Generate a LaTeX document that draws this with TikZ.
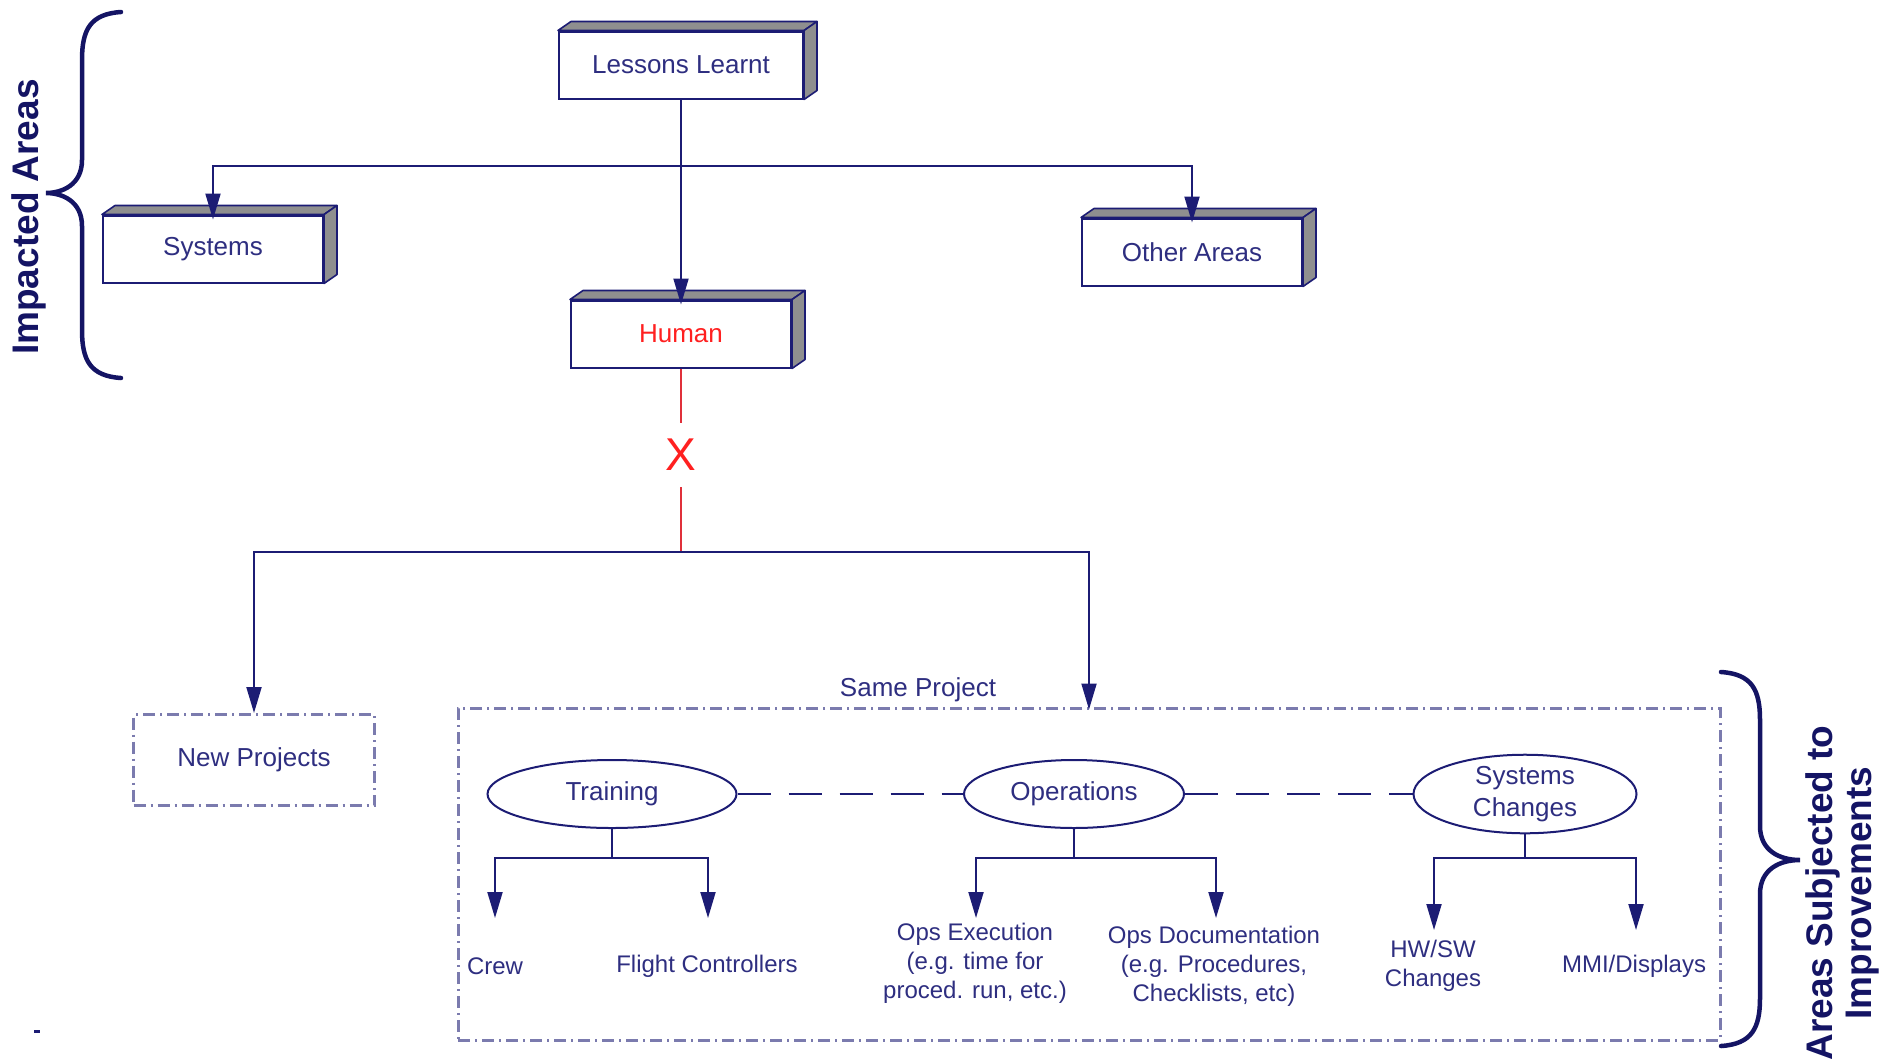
\documentclass[tikz,border=0pt]{standalone}
\usepackage{fontspec}
\setmainfont{Liberation Sans}
\usetikzlibrary{arrows.meta,shapes.geometric}
\definecolor{navy}{HTML}{1C1C74}
\definecolor{txt}{HTML}{2E2E80}
\definecolor{frm}{HTML}{7B7BAE}
\definecolor{shade}{HTML}{8F8F8F}
\definecolor{hred}{HTML}{FF2020}
\definecolor{lred}{HTML}{E0303A}
\definecolor{brc}{HTML}{141464}
\newcommand\boxfaces[1]{%
  \draw[face] (#1.north west) -- ++(13,-9) -- ([shift={(13,-9)}]#1.north east) -- (#1.north east) -- cycle;
  \draw[face] (#1.north east) -- ++(13,-9) -- ([shift={(13,-9)}]#1.south east) -- (#1.south east) -- cycle;}
\tikzset{
  box3d/.style={draw=navy, line width=2pt, fill=white, minimum width=220pt, minimum height=67pt, inner sep=0pt, font=\fontsize{26pt}{31pt}\selectfont, text=txt},
  face/.style={draw=navy, line width=1.6pt, fill=shade, line join=round},
  conn/.style={draw=navy, line width=2pt},
  arr/.style={conn, -{Triangle[length=26pt,width=15pt]}},
  dashdotframe/.style={draw=frm, line width=3pt, dash pattern=on 12pt off 5pt on 2pt off 5pt},
  oval/.style={ellipse, draw=navy, line width=2pt, minimum height=68pt, inner sep=0pt, font=\fontsize{26pt}{32pt}\selectfont, text=txt, align=center},
  lbl/.style={font=\fontsize{24pt}{29pt}\selectfont, text=txt, align=center, inner sep=0pt},
  sidelbl/.style={font=\fontsize{37pt}{39pt}\selectfont\bfseries, text=brc, rotate=90, align=center, inner sep=0pt},
  brace/.style={draw=brc, line width=4.5pt, line cap=round},
  linkdash/.style={draw=navy, line width=2pt, dash pattern=on 33pt off 18pt}
}
\begin{document}
\begin{tikzpicture}[x=1pt,y=-1pt]
\useasboundingbox (0,0) rectangle (1894,1058);

% side labels and braces
\node[sidelbl] (ia) at (29,217) {Impacted Areas};
\draw[brace] (121,12) .. controls (90,14) and (82,30) .. (82,60) -- (82,160) .. controls (82,185) and (62,193) .. (46,193)
  .. controls (62,193) and (82,201) .. (82,226) -- (82,330) .. controls (82,360) and (90,376) .. (121,378);
\node[sidelbl] (asi) at (1842,893) {Areas Subjected to\\Improvements};
\draw[brace] (1721,672) .. controls (1752,674) and (1760,690) .. (1760,720) -- (1760,826) .. controls (1760,851) and (1780,860) .. (1800,860)
  .. controls (1780,860) and (1760,869) .. (1760,894) -- (1760,998) .. controls (1760,1028) and (1752,1044) .. (1721,1046);

% 3D boxes
\node[box3d, minimum width=244pt] (ll) at (681,65) {Lessons Learnt};
\boxfaces{ll}
\node[box3d] (sys) at (213,249) {Systems};
\boxfaces{sys}
\node[box3d] (oa) at (1192,252) {Other Areas};
\boxfaces{oa}
\node[box3d, text=hred] (hum) at (681,334) {Human};
\boxfaces{hum}

% top connectors
\coordinate (jt) at (681,166);
\draw[conn] (ll.south) -- (jt);
\draw[arr] (jt) -- ([yshift=-5pt]hum.north);
\draw[arr] (jt) -| ([yshift=-5pt]sys.north);
\draw[arr] (jt) -| ([yshift=-5pt]oa.north);

% red cut
\node[text=hred, font=\fontsize{46pt}{46pt}\selectfont, minimum height=64pt, inner sep=0pt] (xx) at (681,455) {X};
\draw[draw=lred, line width=2pt] (hum.south) -- (xx.north);
\coordinate (jb) at (681,552);
\draw[draw=lred, line width=2pt] (xx.south) -- (jb);

% lower frames
\node[dashdotframe, minimum width=241pt, minimum height=91pt, inner sep=0pt, font=\fontsize{26pt}{31pt}\selectfont, text=txt] (np) at (254,760) {New Projects};
\node[dashdotframe, minimum width=1262pt, minimum height=332pt, inner sep=0pt] (sp) at (1089,874) {};
\node[font=\fontsize{26pt}{31pt}\selectfont, text=txt, inner sep=0pt] (spl) at (918,690) {Same Project};
\draw[arr] (jb) -| (np.north);
\draw[arr] (jb) -| ([yshift=-3pt]sp.north);

% ellipses
\node[oval, minimum width=249pt] (tr) at (612,794) {Training};
\node[oval, minimum width=220pt] (op) at (1074,794) {Operations};
\node[oval, minimum width=223pt] (sc) at (1525,794) {Systems\\Changes};
\draw[linkdash] (tr.east) -- (op.west);
\draw[linkdash] (op.east) -- (sc.west);

% trees
\coordinate (tj) at (612,858);
\coordinate (t1) at (495,918);
\coordinate (t2) at (708,918);
\draw[conn] (tr.south) -- (tj);
\draw[arr] (tj) -| (t1);
\draw[arr] (tj) -| (t2);
\coordinate (oj) at (1074,858);
\coordinate (o1) at (976,918);
\coordinate (o2) at (1216,918);
\draw[conn] (op.south) -- (oj);
\draw[arr] (oj) -| (o1);
\draw[arr] (oj) -| (o2);
\coordinate (sj) at (1525,858);
\coordinate (s1) at (1434,930);
\coordinate (s2) at (1636,930);
\draw[conn] (sc.south) -- (sj);
\draw[arr] (sj) -| (s1);
\draw[arr] (sj) -| (s2);

% leaf labels
\node[lbl] (crew) at (495,966) {Crew};
\node[lbl] (fc) at (707,966) {Flight Controllers};
\node[lbl] (oe) at (975,963) {Ops Execution\\(e.g. time for\\proced. run, etc.)};
\node[lbl] (od) at (1214,966) {Ops Documentation\\(e.g. Procedures,\\Checklists, etc)};
\node[lbl] (hw) at (1433,966) {HW/SW\\Changes};
\node[lbl] (mmi) at (1634,966) {MMI/Displays};

% small mark
\draw[draw=navy, line width=3pt] (34,1031) -- (40,1031);
\end{tikzpicture}
\end{document}
